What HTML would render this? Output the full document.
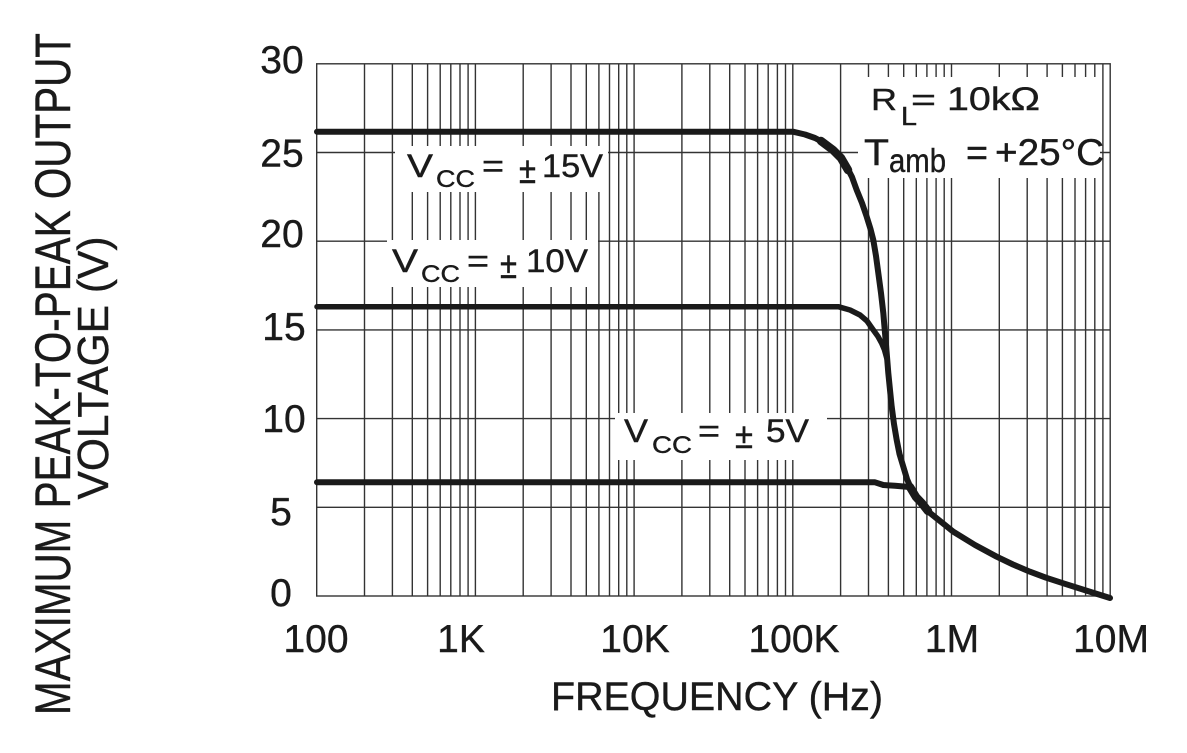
<!DOCTYPE html>
<html>
<head>
<meta charset="utf-8">
<style>
html,body{margin:0;padding:0;background:#fff;}
svg{display:block}
text{font-family:"Liberation Sans",Arial,sans-serif;fill:#1a1a1a;stroke:#1a1a1a;stroke-width:0.4;}
</style>
</head>
<body>
<svg width="1187" height="753" viewBox="0 0 1187 753" xmlns="http://www.w3.org/2000/svg">
<rect x="0" y="0" width="1187" height="753" fill="#fff"/>

<!-- grid -->
<g stroke="#333" stroke-width="1.4" fill="none">
<path d="
M364.5,63.8V596 M392.4,63.8V596 M412.3,63.8V596 M427.6,63.8V596 M440.2,63.8V596 M450.8,63.8V596 M460.0,63.8V596 M468.1,63.8V596 M475.4,63.8V596
M523.2,63.8V596 M551.1,63.8V596 M571.0,63.8V596 M586.3,63.8V596 M598.9,63.8V596 M609.5,63.8V596 M618.7,63.8V596 M626.8,63.8V596 M634.1,63.8V596
M681.9,63.8V596 M709.8,63.8V596 M729.7,63.8V596 M745.0,63.8V596 M757.6,63.8V596 M768.2,63.8V596 M777.4,63.8V596 M785.5,63.8V596 M792.8,63.8V596
M840.6,63.8V596 M868.5,63.8V596 M888.4,63.8V596 M903.7,63.8V596 M916.3,63.8V596 M926.9,63.8V596 M936.1,63.8V596 M944.2,63.8V596 M951.5,63.8V596
M999.3,63.8V596 M1027.2,63.8V596 M1047.1,63.8V596 M1062.4,63.8V596 M1075.0,63.8V596 M1085.6,63.8V596 M1094.8,63.8V596 M1102.9,63.8V596
M316.7,152.5H1110.2 M316.7,241.2H1110.2 M316.7,329.9H1110.2 M316.7,418.6H1110.2 M316.7,507.3H1110.2
"/>
<rect x="316.7" y="63.8" width="793.5" height="532.2"/>
</g>

<!-- label backgrounds -->
<g fill="#fff">
<rect x="395" y="146" width="213" height="46"/>
<rect x="387" y="240" width="211" height="47"/>
<rect x="615" y="413" width="212" height="47"/>
<rect x="858" y="77" width="242" height="101"/>
</g>

<!-- curves -->
<g stroke="#1a1a1a" fill="none" stroke-linejoin="round" stroke-linecap="round">
<polyline stroke-width="6" points="317,131.7 793,131.7 805,134.5 815,138 822,141.7 833,150 841,158 846.7,166.7 852,177 856.7,190 862,203 866.7,216.7 870.5,229 873.3,240 876,256 878.3,273 881,293 883.3,313 885,333 886.7,353 888.3,373 890,390 891.7,406.7 894,424 896.7,440 899.5,454 903.3,466.7 907,479 911.7,490 916,497 921.7,503 930,513 940,521 953.3,531.7 975,545 996.7,556.7 1013,564.5 1030,571.7 1046,577.7 1063.3,583.3 1086,590.5 1110,598"/>
<polyline stroke-width="5.5" points="317,306.7 838.3,306.7 850,310 860,315 867,321 873.3,330 878,336.5 881.7,343.3 884.5,350 886.7,358"/>
<polyline stroke-width="6" points="317,482.3 875,482.3 883.3,485 895,485.8 906.7,486.7 911.7,488.3"/>
<polyline stroke-width="8.5" points="821,141 833,150 841,158 848,170"/>
<polyline stroke-width="8.5" points="910,487 916,497 921.7,503 928,511"/>
</g>

<!-- y tick labels -->
<g font-size="39" text-anchor="middle">
<text x="282" y="73">30</text>
<text x="282" y="166.5">25</text>
<text x="282" y="247">20</text>
<text x="284" y="340">15</text>
<text x="284" y="432">10</text>
<text x="281" y="525">5</text>
<text x="281" y="606">0</text>
</g>

<!-- x tick labels -->
<g font-size="39" text-anchor="middle">
<text x="316" y="652">100</text>
<text x="461" y="652">1K</text>
<text x="635" y="652">10K</text>
<text x="794" y="652">100K</text>
<text x="952" y="652">1M</text>
<text x="1111" y="652">10M</text>
</g>

<!-- axis titles -->
<text transform="translate(70,374) rotate(-90)" text-anchor="middle" font-size="50" textLength="682" lengthAdjust="spacingAndGlyphs">MAXIMUM PEAK-TO-PEAK OUTPUT</text>
<text transform="translate(108,368) rotate(-90)" text-anchor="middle" font-size="44" textLength="263" lengthAdjust="spacingAndGlyphs">VOLTAGE (V)</text>
<text x="717" y="710" text-anchor="middle" font-size="40" textLength="332" lengthAdjust="spacingAndGlyphs">FREQUENCY (Hz)</text>

<!-- VCC = ±15V -->
<text x="407" y="177" font-size="32" textLength="26" lengthAdjust="spacingAndGlyphs">V</text>
<text x="436" y="187" font-size="24" textLength="39" lengthAdjust="spacingAndGlyphs">CC</text>
<text x="482" y="177" font-size="32" textLength="22" lengthAdjust="spacingAndGlyphs">=</text>
<text x="519" y="183" font-size="38" textLength="17" lengthAdjust="spacingAndGlyphs">±</text>
<text x="542" y="177" font-size="32" textLength="61" lengthAdjust="spacingAndGlyphs">15V</text>

<!-- VCC = ±10V -->
<text x="392" y="272" font-size="32" textLength="26" lengthAdjust="spacingAndGlyphs">V</text>
<text x="421" y="282" font-size="24" textLength="39" lengthAdjust="spacingAndGlyphs">CC</text>
<text x="467" y="272" font-size="32" textLength="22" lengthAdjust="spacingAndGlyphs">=</text>
<text x="500" y="278" font-size="38" textLength="17" lengthAdjust="spacingAndGlyphs">±</text>
<text x="526" y="272" font-size="32" textLength="62" lengthAdjust="spacingAndGlyphs">10V</text>

<!-- VCC = ±5V -->
<text x="624" y="442" font-size="32" textLength="24" lengthAdjust="spacingAndGlyphs">V</text>
<text x="652" y="453" font-size="24" textLength="40" lengthAdjust="spacingAndGlyphs">CC</text>
<text x="698" y="442" font-size="32" textLength="22" lengthAdjust="spacingAndGlyphs">=</text>
<text x="735" y="448" font-size="36" textLength="18" lengthAdjust="spacingAndGlyphs">±</text>
<text x="766" y="442" font-size="32" textLength="43" lengthAdjust="spacingAndGlyphs">5V</text>

<!-- RL = 10kΩ -->
<text x="871" y="110" font-size="31" textLength="26" lengthAdjust="spacingAndGlyphs">R</text>
<text x="901" y="125" font-size="26" textLength="16" lengthAdjust="spacingAndGlyphs">L</text>
<text x="911" y="110" font-size="31" textLength="25" lengthAdjust="spacingAndGlyphs">=</text>
<text x="947" y="110" font-size="32" textLength="93" lengthAdjust="spacingAndGlyphs">10kΩ</text>

<!-- Tamb = +25°C -->
<text x="864" y="165" font-size="37" textLength="25" lengthAdjust="spacingAndGlyphs">T</text>
<text x="889" y="172" font-size="33" textLength="57" lengthAdjust="spacingAndGlyphs">amb</text>
<text x="966" y="165" font-size="37" textLength="22" lengthAdjust="spacingAndGlyphs">=</text>
<text x="995" y="165" font-size="37" textLength="109" lengthAdjust="spacingAndGlyphs">+25°C</text>
</svg>
</body>
</html>
